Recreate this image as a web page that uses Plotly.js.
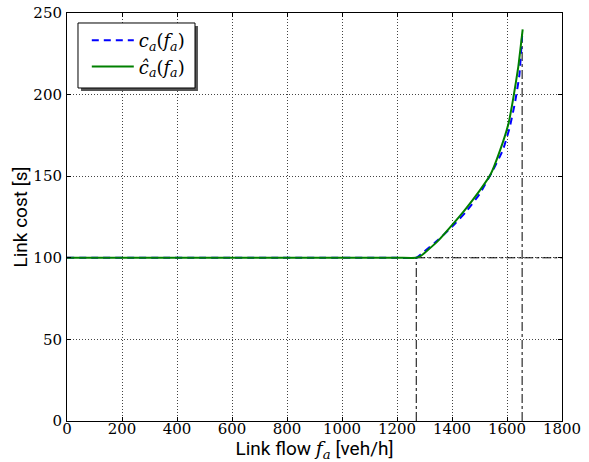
<!DOCTYPE html>
<html>
<head>
<meta charset="utf-8">
<script src="https://cdn.plot.ly/plotly-3.0.1.min.js"></script>
<style>html,body{margin:0;padding:0;background:#fff;}#chart{width:589px;height:462px;}</style>
</head>
<body>
<div id="chart"></div>
<script>
// Data
const flowC = [0, 1200, 1270, 1300, 1350, 1400, 1450, 1500, 1550, 1585, 1610, 1630, 1645, 1655];
const costC = [100, 100, 100, 104, 111, 119, 128, 139, 154, 166, 180, 196, 212, 236];
const flowH = [0, 1200, 1270, 1285, 1300, 1350, 1400, 1450, 1500, 1540, 1575, 1605, 1623, 1641, 1657];
const costH = [100, 100, 100, 101, 103, 110.5, 120, 130, 141, 151, 166, 182, 198, 217, 240];
const kneeFlow = 1270;
const capFlow = 1655;
const freeCost = 100;
const capCost = 238;
const xTicks = [0, 200, 400, 600, 800, 1000, 1200, 1400, 1600, 1800];
const yTicks = [0, 50, 100, 150, 200, 250];

const SERIF = 'DejaVu Serif';
const SANS = 'Roboto';

const refStyle = {color: 'black', width: 1, dash: 'dashdot'};
const traces = [
  {x: [kneeFlow, 1800], y: [freeCost, freeCost], mode: 'lines', line: refStyle, showlegend: false, hoverinfo: 'skip'},
  {x: [kneeFlow, kneeFlow], y: [0, freeCost], mode: 'lines', line: refStyle, showlegend: false, hoverinfo: 'skip'},
  {x: [capFlow, capFlow], y: [0, capCost], mode: 'lines', line: refStyle, showlegend: false, hoverinfo: 'skip'},
  {x: flowC, y: costC, mode: 'lines', name: '<i>c</i><sub><i>a</i></sub>(<i>f</i><sub><i>a</i></sub>)',
   line: {color: '#0000ff', width: 2, dash: '7px,5px', shape: 'spline', smoothing: 0.4}},
  {x: flowH, y: costH, mode: 'lines', name: '<i>ĉ</i><sub><i>a</i></sub>(<i>f</i><sub><i>a</i></sub>)',
   line: {color: '#008000', width: 2, shape: 'spline', smoothing: 0.4}}
];

const axisCommon = {
  showline: true, linecolor: 'black', linewidth: 1, mirror: 'ticks',
  ticks: 'inside', ticklen: 4, tickcolor: 'black',
  showgrid: true, gridcolor: '#444', griddash: '1px,2px', gridwidth: 1,
  zeroline: false,
  tickfont: {family: SERIF, size: 15, color: 'black'}
};

const layout = {
  width: 589, height: 462,
  margin: {l: 67, r: 27, t: 13, b: 41},
  paper_bgcolor: 'white', plot_bgcolor: 'white',
  xaxis: Object.assign({}, axisCommon, {
    range: [0, 1800], tickvals: xTicks, ticktext: xTicks.map(String),
    ticklabelstandoff: -6,
    title: {text: 'Link flow <span style="font-family:\'DejaVu Serif\'"><i>f</i><sub><i>a</i></sub></span> [veh/h]', font: {family: SANS, size: 19, color: 'black'}, standoff: 0}
  }),
  yaxis: Object.assign({}, axisCommon, {
    range: [0, 250], tickvals: yTicks, ticktext: yTicks.map(String),
    ticklabelstandoff: 1,
    title: {text: 'Link cost [s]', font: {family: SANS, size: 19, color: 'black'}, standoff: 0}
  }),
  legend: {
    x: 0.040, y: 0.978, xanchor: 'left', yanchor: 'top',
    bgcolor: 'rgba(0,0,0,0)', borderwidth: 0,
    font: {family: SERIF, size: 18, color: 'black'},
    itemwidth: 42, tracegroupgap: 7
  },
  shapes: [
    {type: 'rect', xref: 'paper', yref: 'paper', layer: 'above',
     x0: 0.0283, x1: 0.2646, y0: 0.809, y1: 0.968,
     fillcolor: '#555', line: {width: 0}},
    {type: 'rect', xref: 'paper', yref: 'paper', layer: 'above',
     x0: 0.0222, x1: 0.2586, y0: 0.8162, y1: 0.9755,
     fillcolor: 'white', line: {color: 'black', width: 1}}
  ],
  showlegend: true
};

Plotly.newPlot('chart', traces, layout, {displayModeBar: false, staticPlot: true});
</script>
</body>
</html>
